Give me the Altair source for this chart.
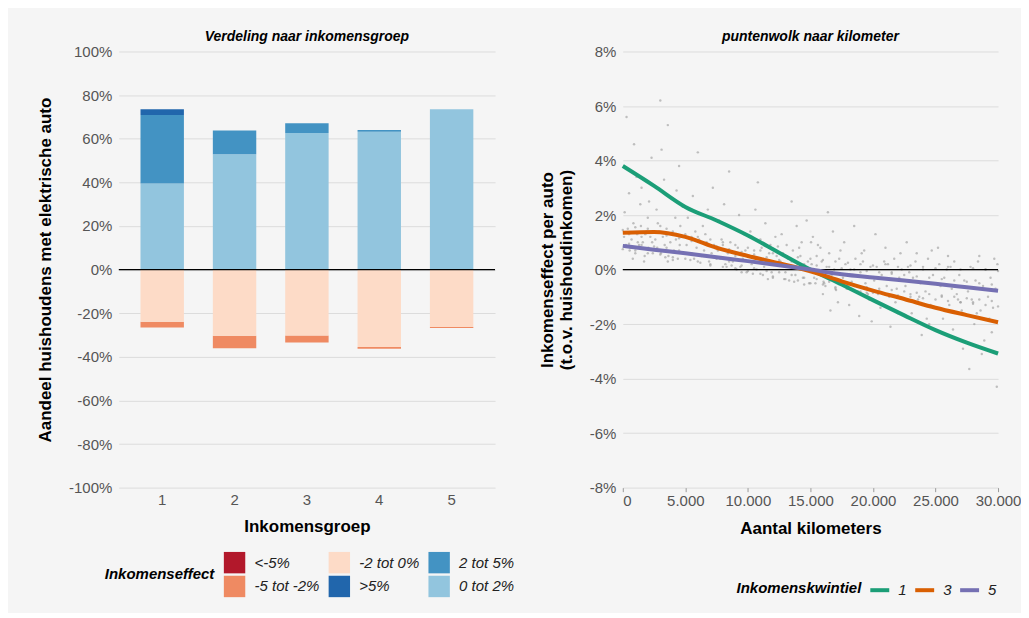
import altair as alt
import pandas as pd

FONT = "Liberation Sans"

# ---- left panel: share of households with an electric car, by income group ----
groepen = [1, 2, 3, 4, 5]
aandeel_lt_min5 = [0.0, 0.0, 0.0, 0.0, 0.0]
aandeel_min5_min2 = [-2.7, -5.8, -3.2, -0.8, -0.5]
aandeel_min2_0 = [-23.9, -30.3, -30.2, -35.5, -26.3]
aandeel_0_2 = [39.5, 52.9, 62.6, 63.2, 73.5]
aandeel_2_5 = [31.4, 10.9, 4.5, 0.8, 0.0]
aandeel_gt5 = [2.6, 0.0, 0.0, 0.0, 0.0]

# legend order (row-wise, three columns) and matching colours
effect_labels = ["<-5%", "-2 tot 0%", "2 tot 5%", "-5 tot -2%", ">5%", "0 tot 2%"]
effect_colors = ["#b2182b", "#fddbc7", "#4393c3", "#ef8a62", "#2166ac", "#92c5de"]

# ---- right panel: point cloud and smoothed lines per income quintile ----
km_lijn = [0, 2500, 5000, 7500, 10000, 12500, 15000, 17500, 20000, 22500, 25000, 27500, 30000]
kwintiel_1 = [3.8, 3.07, 2.3, 1.8, 1.25, 0.62, 0.0, -0.55, -1.12, -1.68, -2.22, -2.68, -3.08]
kwintiel_3 = [1.35, 1.38, 1.2, 0.8, 0.5, 0.23, -0.06, -0.43, -0.77, -1.08, -1.4, -1.67, -1.93]
kwintiel_5 = [0.87, 0.73, 0.6, 0.45, 0.31, 0.16, 0.0, -0.17, -0.29, -0.4, -0.52, -0.65, -0.78]

# scattered households (spread of the cloud)
punten_km = [
    100, 250, 400, 550, 700, 850, 1000, 1150, 1300, 1450, 1600, 1750, 1900, 2050, 2200, 2350,
    150, 500, 800, 1100, 1400, 1700, 2000, 2300, 300, 900, 1500, 2100, 600, 1200, 1800, 2400,
    2600, 2750, 2900, 3050, 3200, 3350, 3500, 3650, 3800, 3950, 4100, 4250, 4400, 4550, 4700, 4850,
    2700, 3000, 3300, 3600, 3900, 4200, 4500, 4800, 3100, 3600, 4300, 2800, 3400, 4000, 4600,
    5100, 5300, 5500, 5700, 5900, 6100, 6300, 6500, 6700, 6900, 7100, 7300,
    5200, 5600, 6000, 6400, 6800, 7200, 5400, 6200, 7000, 5800, 6600, 7400,
    7600, 7800, 8000, 8200, 8400, 8600, 8800, 9000, 9200, 9400, 9600, 9800,
    7700, 8100, 8500, 8900, 9300, 9700, 8300, 9100, 9900, 7900, 8700, 9500,
    10100, 10300, 10500, 10700, 10900, 11100, 11300, 11500, 11700, 11900, 12100, 12300,
    10200, 10600, 11000, 11400, 11800, 12200, 10400, 11200, 12000, 10800, 11600, 12400,
    12600, 12800, 13000, 13200, 13400, 13600, 13800, 14000, 14200, 14400, 14600, 14800,
    12700, 13100, 13500, 13900, 14300, 14700, 12900, 13700, 14500, 13300, 14100, 14900,
    15100, 15300, 15500, 15700, 15900, 16100, 16300, 16500, 16700, 16900, 17100, 17300,
    15200, 15600, 16000, 16400, 16800, 17200, 15400, 16200, 17000, 15800, 16600, 17400,
    15050, 16050, 17050,
    17600, 17800, 18000, 18200, 18400, 18600, 18800, 19000, 19200, 19400, 19600, 19800,
    17700, 18100, 18500, 18900, 19300, 19700, 17900, 18700, 19500, 18300, 19100, 19900,
    20100, 20300, 20500, 20700, 20900, 21100, 21300, 21500, 21700, 21900, 22100, 22300,
    20200, 20600, 21000, 21400, 21800, 22200, 20400, 21200, 22000,
    22600, 22800, 23000, 23200, 23400, 23600, 23800, 24000, 24200, 24400, 24600, 24800,
    22700, 23100, 23500, 23900, 24300, 24700, 22900, 23700, 24500,
    25100, 25300, 25500, 25700, 25900, 26100, 26300, 26500, 26700, 26900, 27100, 27300,
    25200, 25600, 26000, 26400, 26800, 27200, 25400, 26200, 27000,
    27600, 27800, 28000, 28200, 28400, 28600, 28800, 29000, 29200, 29400, 29600, 29800,
    27700, 28100, 28500, 28900, 29300, 29700, 27900, 28700, 29900, 29950, 28300, 29500,
]
punten_effect = [
    1.2, 0.9, 1.5, 0.7, 1.1, 1.7, 0.6, 1.3, 0.9, 1.6, 1.0, 0.5, 1.4, 0.8, 1.2, 1.0,
    2.1, 2.8, 0.4, 3.4, 2.4, 0.3, 1.9, 4.1, 5.6, 4.6, 3.0, 2.5, 0.8, 1.0, 1.3, 0.6,
    1.1, 0.8, 1.4, 0.6, 1.2, 0.9, 1.5, 0.5, 1.0, 1.3, 0.7, 1.1, 0.4, 0.9, 1.2, 0.6,
    2.2, 6.2, 3.3, 5.3, 2.6, 1.9, 3.8, 2.3, 4.4, 0.3, 2.9, 1.7, 0.45, 0.35, 1.6,
    0.9, 0.6, 1.2, 0.4, 0.8, 1.1, 0.5, 0.7, 1.0, 0.3, 0.6, 0.9,
    1.9, 2.7, 4.3, 1.6, 2.2, 3.0, 0.35, 0.25, 0.15, 1.4, 1.3, 0.45,
    0.7, 0.4, 0.9, 0.2, 0.6, 1.0, 0.3, 0.5, 0.8, 0.1, 0.4, 0.7,
    1.8, 2.4, 3.6, 1.5, 2.0, 1.3, 0.1, 0.0, -0.1, 1.1, 0.15, -0.1,
    0.5, 0.2, 0.7, 0.0, 0.4, 0.8, 0.1, 0.3, 0.6, -0.1, 0.2, 0.5,
    1.4, 2.2, 1.1, 1.7, 0.9, 1.2, -0.15, -0.2, -0.3, 3.2, -0.35, 0.85,
    0.3, 0.6, -0.1, 0.4, 0.1, 0.7, -0.2, 0.2, 0.5, -0.3, 0.0, 0.3,
    1.3, 0.9, 2.5, 1.6, 1.0, 1.8, -0.35, -0.45, -0.55, -0.4, 0.8, -0.5,
    0.2, -0.3, 0.5, -0.1, 0.3, -0.5, 0.1, 0.6, -0.2, 0.0, -0.4, 0.4,
    1.2, 0.9, -0.9, 2.1, 1.4, -1.2, -0.5, -0.6, -0.7, 0.8, -1.5, 0.7,
    1.0, -0.45, -0.75,
    -0.3, 0.2, -0.6, 0.0, -0.2, 0.4, -0.8, -0.1, 0.3, -0.5, -0.9, 0.1,
    1.0, -1.3, 1.6, -1.7, 0.7, -1.1, -0.7, -0.8, -0.85, -0.45, 0.6, -1.9,
    -0.4, 0.1, -0.8, -0.2, 0.3, -0.6, -1.0, -0.1, 0.4, -0.7, -0.3, 0.0,
    1.3, -1.4, 0.8, -2.1, -1.2, 0.6, -0.9, 0.2, -1.6,
    -0.6, 0.1, -0.9, -0.3, 0.3, -1.1, -0.5, 0.0, -0.8, 0.4, -1.3, -0.2,
    1.0, -1.6, 0.6, -2.4, -1.8, 0.7, -0.1, -1.0, -2.0,
    -0.5, 0.2, -1.0, -0.3, 0.0, -1.3, -0.7, 0.3, -0.9, -0.2, -1.5, -0.4,
    0.8, -1.8, 0.5, -2.2, -1.1, -2.9, -0.6, 0.1, -1.2,
    -0.8, 0.1, -1.2, -0.4, 0.3, -1.5, -0.6, 0.0, -1.0, -0.3, -1.4, -0.7,
    -3.65, -2.0, 0.5, -2.6, -1.8, 0.4, -1.1, -3.1, -4.3, 0.2, -1.6, -2.3,
]

# dense core of the cloud: upper and lower edge of the main band
kern_km = [
    0, 500, 1000, 1500, 2000, 2500, 3000, 3500, 4000, 4500, 5000, 5500, 6000, 6500, 7000,
    7500, 8000, 8500, 9000, 9500, 10000, 10500, 11000, 11500, 12000, 12500, 13000, 13500,
    14000, 14500, 15000, 15500, 16000, 16500, 17000, 17500, 18000, 18500, 19000, 19500,
    20000, 20500, 21000, 21500, 22000, 22500, 23000, 23500, 24000, 24500, 25000, 25500,
    26000, 26500, 27000, 27500, 28000, 28500, 29000, 29500, 30000,
]
kern_boven = [
    1.45, 1.3, 1.55, 1.2, 1.5, 1.35, 1.6, 1.25, 1.4, 1.15, 1.3, 1.05, 1.2, 0.95, 1.1,
    0.85, 1.0, 0.75, 0.9, 0.65, 0.8, 0.55, 0.7, 0.45, 0.6, 0.35, 0.5, 0.3,
    0.45, 0.2, 0.4, 0.15, 0.35, 0.1, 0.3, 0.05, 0.25, 0.0, 0.2, -0.05,
    0.15, -0.1, 0.2, -0.15, 0.1, -0.2, 0.15, -0.25, 0.1, -0.3, 0.05, -0.35,
    0.1, -0.4, 0.0, -0.45, 0.05, -0.5, 0.0, -0.55, -0.05,
]
kern_onder = [
    0.75, 0.95, 0.7, 0.9, 0.6, 0.85, 0.55, 0.8, 0.45, 0.7, 0.4, 0.6, 0.3, 0.5, 0.2,
    0.4, 0.1, 0.3, 0.05, 0.15, -0.05, 0.05, -0.15, -0.05, -0.25, -0.1, -0.35, -0.2,
    -0.4, -0.3, -0.5, -0.35, -0.55, -0.45, -0.65, -0.5, -0.7, -0.6, -0.8, -0.65,
    -0.85, -0.7, -0.9, -0.75, -0.95, -0.8, -1.0, -0.85, -1.05, -0.9, -1.1, -0.95,
    -1.15, -1.0, -1.2, -1.05, -1.25, -1.1, -1.3, -1.15, -1.35,
]

# ---- build tables ----
series = [
    ("<-5%", aandeel_lt_min5, 3),
    ("-5 tot -2%", aandeel_min5_min2, 2),
    ("-2 tot 0%", aandeel_min2_0, 1),
    ("0 tot 2%", aandeel_0_2, 1),
    ("2 tot 5%", aandeel_2_5, 2),
    (">5%", aandeel_gt5, 3),
]
rows = []
for label, values, rank in series:
    for g, v in zip(groepen, values):
        rows.append({"groep": g, "effect": label, "aandeel": v, "rang": rank})
bar_df = pd.DataFrame(rows)

line_rows = []
for naam, values in [("1", kwintiel_1), ("3", kwintiel_3), ("5", kwintiel_5)]:
    for k, v in zip(km_lijn, values):
        line_rows.append({"km": k, "effect": v, "kwintiel": naam})
line_df = pd.DataFrame(line_rows)
pts_df = pd.DataFrame({
    "km": punten_km + kern_km + kern_km,
    "effect": punten_effect + kern_boven + kern_onder,
})
zero_df = pd.DataFrame({"y": [0]})

title_style = dict(fontSize=14, fontWeight="bold", fontStyle="italic", anchor="middle",
                   offset=1, font=FONT, color="black")

# ---- left chart ----
bars = (alt
    .Chart(bar_df)
    .mark_bar()
    .encode(
        x=alt.X("groep:O", title="Inkomensgroep",
                scale=alt.Scale(paddingInner=0.4, paddingOuter=0.3),
                axis=alt.Axis(labelAngle=0, labelPadding=5, titlePadding=11, grid=False)),
        y=alt.Y("aandeel:Q", stack="zero", title="Aandeel huishoudens met elektrische auto",
                scale=alt.Scale(domain=[-100, 100], nice=False),
                axis=alt.Axis(values=[-100, -80, -60, -40, -20, 0, 20, 40, 60, 80, 100],
                              labelExpr="datum.value + '%'", labelPadding=7, titlePadding=14)),
        color=alt.Color("effect:N",
                        scale=alt.Scale(domain=effect_labels, range=effect_colors),
                        legend=alt.Legend(title="Inkomenseffect", orient="none", legendX=-14,
                                          legendY=501, direction="horizontal", columns=3,
                                          titleOrient="left", titleAnchor="middle",
                                          titleBaseline="middle", symbolType="square",
                                          symbolSize=460, symbolStrokeWidth=0,
                                          symbolOpacity=1, labelOffset=9, columnPadding=8,
                                          rowPadding=2, titlePadding=9, labelFontSize=15,
                                          labelFontStyle="italic", labelColor="#222222",
                                          titleFontSize=15, titleFontStyle="italic",
                                          titleFontWeight="bold", titleColor="black")),
        order=alt.Order("rang:Q"),
    )
)
zero_left = alt.Chart(zero_df).mark_rule(color="black", strokeWidth=1.3).encode(y="y:Q")
left = (alt
    .layer(bars, zero_left)
    .properties(width=377, height=437,
                title=alt.TitleParams("Verdeling naar inkomensgroep", **title_style))
)

# ---- right chart ----
x_km = alt.X("km:Q", title="Aantal kilometers",
             scale=alt.Scale(domain=[0, 30000], nice=False),
             axis=alt.Axis(values=[0, 5000, 10000, 15000, 20000, 25000, 30000],
                           labelExpr="replace(format(datum.value, ','), ',', '.')",
                           labelFlush=False, labelOverlap=False,
                           labelAlign={"condition": {"test": "datum.value == 0", "value": "left"},
                                       "value": "center"},
                           grid=False, ticks=True, tickSize=4,
                           tickColor="#999999", labelPadding=2, titlePadding=12))
y_eff = alt.Y("effect:Q", title=["Inkomenseffect per auto", "(t.o.v. huishoudinkomen)"],
              scale=alt.Scale(domain=[-8, 8], nice=False),
              axis=alt.Axis(values=[-8, -6, -4, -2, 0, 2, 4, 6, 8],
                            labelExpr="datum.value + '%'", labelPadding=7,
                            titlePadding=14, titleLineHeight=19))
points = (alt
    .Chart(pts_df)
    .mark_circle(size=6, color="#9a9a9a", opacity=0.6)
    .encode(x=x_km, y=y_eff)
)
zero_right = alt.Chart(zero_df).mark_rule(color="black", strokeWidth=1.3).encode(y="y:Q")
lines = (alt
    .Chart(line_df)
    .mark_line(strokeWidth=4, interpolate="monotone")
    .encode(
        x="km:Q",
        y="effect:Q",
        color=alt.Color("kwintiel:N",
                        scale=alt.Scale(domain=["1", "3", "5"],
                                        range=["#1b9e77", "#d95f02", "#7570b3"]),
                        legend=alt.Legend(title="Inkomenskwintiel", orient="none", legendX=114,
                                          legendY=528, direction="horizontal",
                                          titleOrient="left", titleBaseline="middle",
                                          titleAnchor="middle", symbolType="stroke",
                                          symbolStrokeWidth=4, symbolSize=360,
                                          labelOffset=7, columnPadding=0, titlePadding=6,
                                          labelFontSize=15, labelFontStyle="italic",
                                          labelColor="#222222", titleFontSize=15,
                                          titleFontStyle="italic", titleFontWeight="bold",
                                          titleColor="black")),
    )
)
right = (alt
    .layer(points, zero_right, lines)
    .properties(width=376, height=437,
                title=alt.TitleParams("puntenwolk naar kilometer", **title_style))
)

chart = (alt
    .hconcat(left, right, spacing=23)
    .resolve_scale(color="independent")
    .resolve_legend(color="independent")
    .properties(background="#f5f5f5",
                padding={"left": 28, "top": 21, "right": 0, "bottom": 14})
    .configure_view(stroke=None)
    .configure_axis(labelFont=FONT, labelFontSize=15, labelColor="#555555",
                    titleFont=FONT, titleFontSize=17, titleFontWeight="bold",
                    titleColor="black", gridColor="#dcdcdc", domain=False, ticks=False)
    .configure_legend(labelFont=FONT, titleFont=FONT)
)

chart.save("out.html", embed_options={"renderer": "svg", "actions": False})
